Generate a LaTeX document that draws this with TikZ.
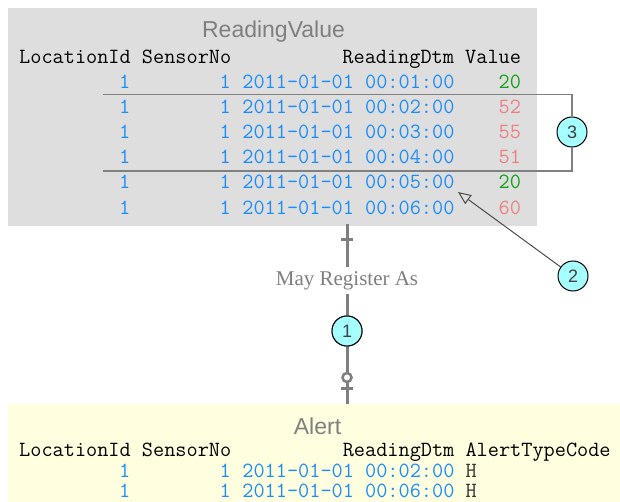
\documentclass[tikz,border=0pt]{standalone}
\usepackage{fontspec}
\setmainfont{Liberation Serif}
\setsansfont{Liberation Sans}
\usetikzlibrary{arrows.meta}
\definecolor{boxgray}{HTML}{DEDEDE}
\definecolor{boxyellow}{HTML}{FFFFE0}
\definecolor{vblue}{RGB}{25,140,255}
\definecolor{vgreen}{RGB}{20,160,20}
\definecolor{vred}{RGB}{240,128,128}
\definecolor{relgray}{HTML}{7F7F7F}
\definecolor{callfill}{HTML}{A6FFFF}
\begin{document}
\begin{tikzpicture}[x=1pt,y=-1pt,
  mono/.style={font=\fontsize{21.67}{23}\ttfamily\addfontfeatures{FakeBold=0.6}, inner sep=0pt},
  tabtitle/.style={font=\fontsize{23}{26}\sffamily, text=relgray, inner sep=0pt, anchor=base},
  callout/.style={circle, draw=black, line width=1pt, fill=callfill, minimum size=30pt, inner sep=0pt, font=\fontsize{18}{20}\sffamily, text=black!75},
  rel/.style={draw=relgray, line width=3pt},
  bracket/.style={draw=gray, line width=1.5pt},
  pointer/.style={draw=black!70, line width=1pt, -{Triangle[open,length=13pt,width=11pt]}}]
\useasboundingbox (0,0) rectangle (620,502);
% table boxes
\node[fill=boxgray, inner sep=0pt, minimum width=529pt, minimum height=218pt, anchor=north west] (rv) at (8,8) {};
\node[fill=boxyellow, inner sep=0pt, minimum width=612pt, minimum height=98pt, anchor=north west] (alert) at (8,404) {};
% ReadingValue
\node[tabtitle] (rvtitle) at (273.5,38) {ReadingValue};
\node[mono, anchor=base west] (rvh1) at (19,63.5) {LocationId SensorNo};
\node[mono, anchor=base east] (rvh2) at (521.2,63.5) {ReadingDtm Value};
\foreach \y/\t/\v/\c [count=\i] in {89/01/20/vgreen,114/02/52/vred,139/03/55/vred,164/04/51/vred,189/05/20/vgreen,214.5/06/60/vred} {
  \node[mono, text=vblue, anchor=base east] (rvloc\i) at (130.6,\y) {1};
  \node[mono, text=vblue, anchor=base east] (rvsen\i) at (231,\y) {1};
  \node[mono, text=vblue, anchor=base west] (rvdtm\i) at (242.2,\y) {2011-01-01 00:\t:00};
  \node[mono, text=\c, anchor=base east] (rvval\i) at (521.2,\y) {\v};
}
% Alert
\node[tabtitle] (altitle) at (317.5,434) {Alert};
\node[mono, anchor=base west] (alh1) at (19,456) {LocationId SensorNo};
\node[mono, anchor=base west] (alh2) at (342.6,456) {ReadingDtm AlertTypeCode};
\foreach \y/\t [count=\i] in {477/02,497/06} {
  \node[mono, text=vblue, anchor=base east] (alloc\i) at (130.6,\y) {1};
  \node[mono, text=vblue, anchor=base east] (alsen\i) at (231,\y) {1};
  \node[mono, text=vblue, anchor=base west] (aldtm\i) at (242.2,\y) {2011-01-01 00:\t:00};
  \node[mono, text=black!80, anchor=base west] (alcode\i) at (465.4,\y) {H};
}
% callouts
\node[callout] (n1) at (347,331) {1};
\node[callout] (n2) at (573,276) {2};
\node[callout] (n3) at (572,132) {3};
% relationship
\draw[rel] ([yshift=2pt]rv.south -| n1) -- (alert.north -| n1);
\draw[rel] (341,240) -- (353,240);
\draw[relgray, line width=2.5pt, fill=white] (347,377.5) circle (4.5pt);
\draw[rel] (341,388.5) -- (353,388.5);
\node[fill=white, font=\fontsize{21}{24}\selectfont, text=relgray, inner xsep=2pt, inner ysep=4pt, anchor=base] (lbl) at (347,285) {May Register As};
\node[callout] at (n1) {1};
% bracket for callout 3
\coordinate (b3top) at (103,94.5);
\coordinate (b3bot) at (103,171);
\draw[bracket] (b3top) -| (n3.north);
\draw[bracket] (n3.south) |- (b3bot);
% pointer from callout 2
\coordinate (tip) at (458,192);
\draw[pointer] (n2) -- (tip);
\end{tikzpicture}
\end{document}
